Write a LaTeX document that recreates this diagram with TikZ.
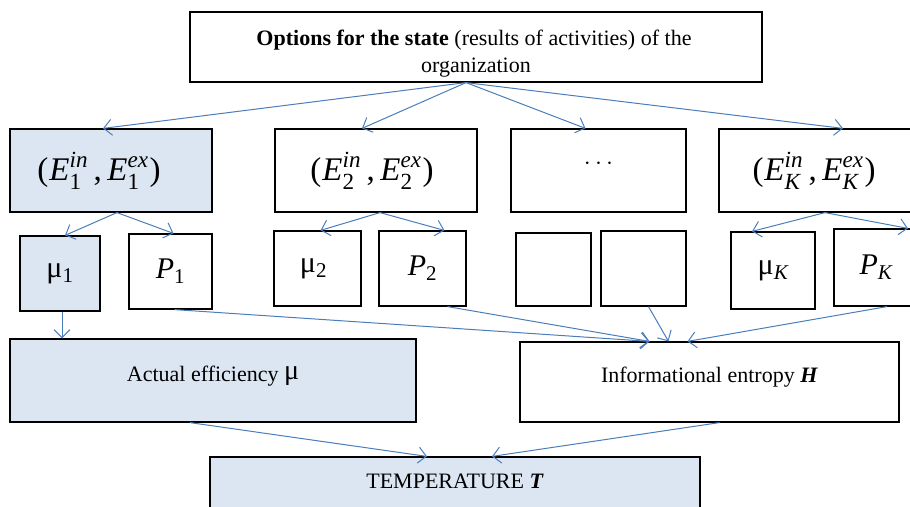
\documentclass[tikz,border=0pt]{standalone}
\usepackage{mathspec}
\setmainfont{Liberation Serif}
\setmathsfont(Digits,Latin){Liberation Serif}
\usetikzlibrary{arrows.meta}
\definecolor{paleblue}{HTML}{DCE6F2}
\definecolor{linkblue}{HTML}{4A7EBB}
\tikzset{
  box/.style={draw, line width=1.2pt, inner sep=0pt},
  shaded/.style={box, fill=paleblue},
  link/.style={draw=linkblue, line width=1pt, -{Straight Barb[length=8pt,width=16pt]}},
  bigmath/.style={font=\fontsize{30}{30}\selectfont},
  pairmath/.style={font=\fontsize{33}{33}\selectfont},
  plain/.style={font=\fontsize{22}{27}\selectfont}
}
\newcommand{\entE}[2]{$E^{\raisebox{4pt}{$\scriptstyle #2$}}_{\raisebox{-3pt}{$\scriptstyle #1$}}$}
\newcommand{\epair}[1]{(\kern1pt\entE{#1}{in}\,,\,\entE{#1}{ex}\kern1pt)}
\begin{document}
\begin{tikzpicture}[x=1pt, y=-1pt]
  \useasboundingbox (0,0) rectangle (910,506);

  % state options
  \node[box, minimum width=572, minimum height=70, align=center, plain] (top) at (476,47)
    {\rule{0pt}{29pt}\hspace*{-4pt}\textbf{Options for the state} (results of activities) of the\\organization};

  % pairs of entropies
  \node[shaded, minimum width=202, minimum height=83, pairmath] (e1) at (111,170.5) {\hspace*{-24pt}\epair{1}};
  \node[box, minimum width=202, minimum height=83, pairmath] (e2) at (376,170.5) {\hspace*{-8pt}\epair{2}};
  \node[box, minimum width=175, minimum height=83, bigmath] (e3) at (598.5,170.5) {\raisebox{13pt}{$\cdots$}};
  \node[box, minimum width=206, minimum height=83, pairmath] (eK) at (822,170.5) {\hspace*{-16pt}\epair{K}};

  % efficiencies and probabilities
  \node[shaded, minimum width=80, minimum height=75, bigmath] (m1) at (60,273.5) {μ$_1$};
  \node[box, minimum width=83, minimum height=75, bigmath] (p1) at (170.5,271.5) {$P_1$};
  \node[box, minimum width=87, minimum height=75, bigmath] (m2) at (317.5,268.5) {\hspace*{-8pt}μ$_2$};
  \node[box, minimum width=87, minimum height=75, bigmath] (p2) at (422.5,268.5) {$P_2$};
  \node[box, minimum width=75, minimum height=73] (b1) at (553.5,269.5) {};
  \node[box, minimum width=85, minimum height=75] (b2) at (643.5,268.5) {};
  \node[box, minimum width=84, minimum height=77, bigmath] (mK) at (773,270.5) {μ$_K$};
  \node[box, minimum width=84, minimum height=77, bigmath] (pK) at (876,267.5) {\raisebox{5pt}{$P_K$}};

  % results
  \node[shaded, minimum width=406, minimum height=83, plain] (act) at (213,380.5)
    {\raisebox{14pt}{Actual efficiency \raisebox{2pt}{\fontsize{28}{28}\selectfont μ}}};
  \node[box, minimum width=379, minimum height=80, plain] (ent) at (709.5,382)
    {\raisebox{15pt}{Informational entropy \textbf{\textit{H}}}};
  \node[shaded, minimum width=490, minimum height=83, plain] (temp) at (455,498.5)
    {\raisebox{34pt}{TEMPERATURE \textbf{\textit{T}}}};

  \draw[link] ([xshift=-10pt]top.south) -- ([xshift=-8pt]e1.north);
  \draw[link] ([xshift=-10pt]top.south) -- ([xshift=-14pt]e2.north);
  \draw[link] ([xshift=-10pt]top.south) -- ([xshift=-13pt]e3.north);
  \draw[link] ([xshift=-10pt]top.south) -- ([xshift=21pt]eK.north);

  \draw[link] ([xshift=6pt]e1.south) -- ([xshift=5pt]m1.north);
  \draw[link] ([xshift=6pt]e1.south) -- ([xshift=3pt]p1.north);
  \draw[link] ([xshift=4pt]e2.south) -- ([xshift=3pt]m2.north);
  \draw[link] ([xshift=4pt]e2.south) -- ([xshift=22pt]p2.north);
  \draw[link] ([xshift=3pt]eK.south) -- ([xshift=-21pt]mK.north);
  \draw[link] ([xshift=3pt]eK.south) -- ([xshift=32pt]pK.north);

  \draw[link] ([xshift=2pt]m1.south) -- ([xshift=2pt]m1.south |- act.north);
  \draw[link] ([xshift=4pt]p1.south) -- ([xshift=-60pt]ent.north);
  \draw[link] ([xshift=25pt]p2.south) -- ([xshift=-60pt]ent.north);
  \draw[link] ([xshift=5pt]b2.south) -- ([xshift=-41pt]ent.north);
  \draw[link] ([xshift=11pt]pK.south) -- ([xshift=-22pt]ent.north);

  \draw[link] ([xshift=-23pt]act.south) -- ([xshift=-28pt]temp.north);
  \draw[link] ([xshift=10pt]ent.south) -- ([xshift=37pt]temp.north);
\end{tikzpicture}
\end{document}
